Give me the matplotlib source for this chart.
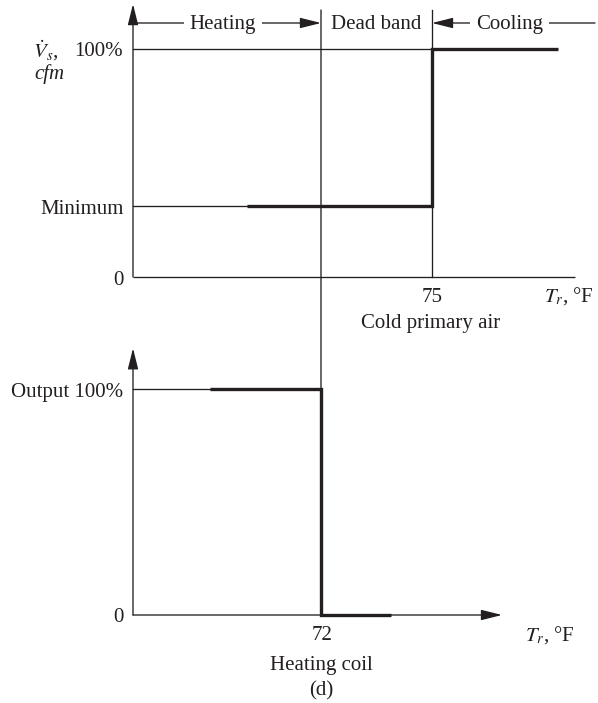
import matplotlib
matplotlib.use("Agg")
import matplotlib.pyplot as plt
from matplotlib.patches import ConnectionPatch

# ---------------- data ----------------
# Cold primary air (top panel): supply air flow fraction vs room temperature
air_temp = [70.0, 75.0, 75.0, 78.4]
air_flow = [0.31, 0.31, 1.0, 1.0]
air_min_level = 0.31
air_max_level = 1.0
air_tick = 75

# Heating coil (bottom panel): output fraction vs room temperature
coil_temp = [69.0, 72.0, 72.0, 73.9]
coil_output = [1.0, 1.0, 0.0, 0.0]
coil_tick = 72

top_ylabels = ["100%", "Minimum", "0"]
bottom_ylabels = ["Output 100%", "0"]
zones = ["Heating", "Dead band", "Cooling"]

# ---------------- style ----------------
plt.rcParams['font.family'] = ['Liberation Serif', 'DejaVu Serif']
plt.rcParams['mathtext.fontset'] = 'stix'
INK = '#231f20'
FS = 15
THIN = 0.95
THICK = 2.4

W, H = 598, 703
fig = plt.figure(figsize=(W / 100, H / 100), dpi=100)

PPD = 37.0          # pixels per degree F
X72 = 321.0         # pixel position of 72 F


def add_px_axes(left, top, right, bottom):
    ax = fig.add_axes([left / W, 1 - bottom / H, (right - left) / W, (bottom - top) / H])
    ax.axis('off')
    ax.set_xlim(72 - (X72 - left) / PPD, 72 + (right - X72) / PPD)
    return ax


def ftext(x, y, s, **kw):
    kw.setdefault('fontsize', FS)
    kw.setdefault('color', INK)
    kw.setdefault('va', 'baseline')
    return fig.text(x / W, 1 - y / H, s, **kw)


arrow_kw = dict(arrowstyle='-|>,head_length=0.8,head_width=0.2',
                color=INK, lw=THIN, shrinkA=0, shrinkB=0, mutation_scale=16)

# ---------------- top panel ----------------
axT = add_px_axes(133, 0, 598, 277)
axT.set_ylim(0, 277 / 228)
x0 = axT.get_xlim()[0]

axT.annotate('', xy=(x0, 1.197), xytext=(x0, 0), arrowprops=arrow_kw,
             annotation_clip=False)
axT.plot([x0, 75 + 143 / PPD], [0, 0], color=INK, lw=THIN, clip_on=False,
         solid_capstyle='butt')
axT.plot([x0, air_tick], [air_max_level, air_max_level], color=INK, lw=THIN, clip_on=False)
axT.plot([x0, air_temp[0]], [air_min_level, air_min_level], color=INK, lw=THIN, clip_on=False)
axT.plot([air_tick, air_tick], [0, 1.171], color=INK, lw=THIN, clip_on=False)
axT.plot(air_temp, air_flow, color=INK, lw=THICK, clip_on=False,
         solid_joinstyle='miter', solid_capstyle='butt')

# zone header
yh = (277 - 23) / 228
axT.annotate('', xy=(coil_tick, yh), xytext=(x0, yh), arrowprops=arrow_kw,
             annotation_clip=False)
axT.annotate('', xy=(air_tick, yh), xytext=(75 + 163 / PPD, yh), arrowprops=arrow_kw,
             annotation_clip=False)
box = dict(facecolor='white', edgecolor='none', pad=4)
ftext(223, 29, zones[0], ha='center', bbox=box)
ftext(376, 29, zones[1], ha='center')
ftext(509.5, 29, zones[2], ha='center', bbox=box)

# ---------------- bottom panel ----------------
axB = add_px_axes(133, 330, 598, 615)
axB.set_ylim(0, 285 / 226)
axB.annotate('', xy=(x0, 1.18), xytext=(x0, 0), arrowprops=arrow_kw,
             annotation_clip=False)
axB.annotate('', xy=(72 + 181 / PPD, 0), xytext=(x0, 0), arrowprops=arrow_kw,
             annotation_clip=False)
axB.plot([x0, coil_temp[0]], [1, 1], color=INK, lw=THIN, clip_on=False)
axB.plot(coil_temp, coil_output, color=INK, lw=THICK, clip_on=False,
         solid_joinstyle='miter', solid_capstyle='butt')

# 72 F divider running from the header down to the coil step
con = ConnectionPatch(xyA=(coil_tick, 1.171), coordsA=axT.transData,
                      xyB=(coil_tick, 1.0), coordsB=axB.transData,
                      color=INK, lw=THIN)
fig.add_artist(con)

# ---------------- labels ----------------
ftext(123, 56, top_ylabels[0], ha='right')
ftext(124, 214, top_ylabels[1], ha='right')
ftext(124, 285, top_ylabels[2], ha='right')
ftext(33, 58, r'$\dot{V}_{s}$,', ha='left')
ftext(34, 79, 'cfm', ha='left', style='italic')
ftext(432, 302, str(air_tick), ha='center')
ftext(569, 302, r'$T_r$, °F', ha='center')
ftext(431, 328, 'Cold primary air', ha='center')

ftext(123, 397, bottom_ylabels[0], ha='right')
ftext(124, 622, bottom_ylabels[1], ha='right')
ftext(322, 640, str(coil_tick), ha='center')
ftext(550, 641, r'$T_r$, °F', ha='center')
ftext(321, 670, 'Heating coil', ha='center')
ftext(321, 695, '(d)', ha='center')

fig.savefig('out.png', dpi=100, facecolor='white')
